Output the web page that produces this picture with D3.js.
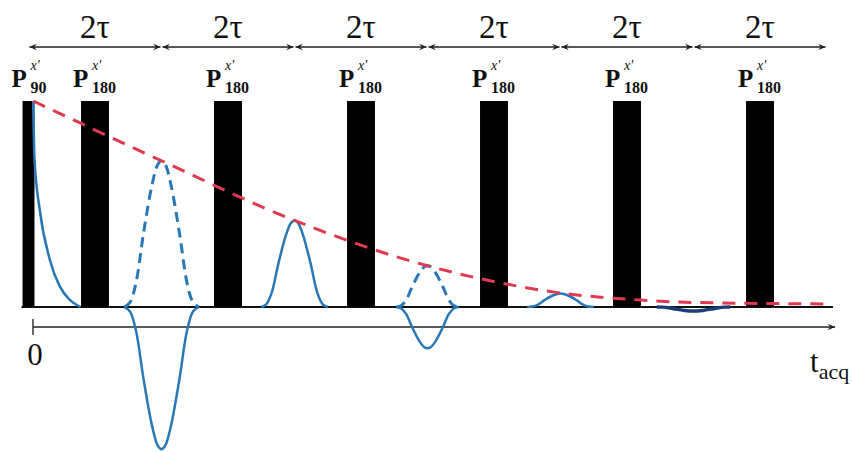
<!DOCTYPE html>
<html>
<head>
<meta charset="utf-8">
<script src="https://cdn.jsdelivr.net/npm/d3@7"></script>
<style>
  body { margin: 0; background: #fff; }
  text { font-family: "Liberation Serif", "Times New Roman", serif; fill: #111; }
</style>
</head>
<body>
<script>
// time in units of tau, amplitude relative to the 90 pulse
var pulseTimes = [0, 1, 3, 5, 7, 9, 11];
var pulseSubs = ["90", "180", "180", "180", "180", "180", "180"];
var spanTicks = [0, 2, 4, 6, 8, 10, 12];
var spanLabel = "2\u03c4";

// echo centres, signed amplitude of the solid echo, amplitude of the dashed (refocused) echo
var echoTimes = [2, 4, 6, 8, 10];
var echoSolid = [-0.69, 0.42, -0.20, 0.065, -0.02];
var echoDashed = [0.71, null, 0.20, null, null];
var echoHalfWidth = [0.56, 0.5, 0.47, 0.5, 0.55];
// normalised bell profile
var echoProfile = [[-1, 0], [-0.85, 0.03], [-0.69, 0.16], [-0.48, 0.51], [-0.25, 0.84], [-0.1, 0.975], [0, 1],
                   [0.1, 0.975], [0.25, 0.84], [0.48, 0.51], [0.69, 0.16], [0.85, 0.03], [1, 0]];

// free induction decay after the 90 pulse
var fid = [[0.07, 1.0], [0.09, 0.72], [0.17, 0.47], [0.32, 0.23], [0.47, 0.10], [0.62, 0.035], [0.78, 0.0]];

// T2 envelope (red dashed)
var envelope = [[0.07, 1.0], [2, 0.71], [4, 0.42], [6, 0.20], [7.1, 0.117], [8, 0.068],
                [9.2, 0.034], [10, 0.022], [12.05, 0.015]];

var W = 852, H = 452;
var svg = d3.select("body").append("svg").attr("width", W).attr("height", H);

var x = d3.scaleLinear().domain([0, 12]).range([28.5, 826.5]);
var y = d3.scaleLinear().domain([0, 1]).range([307, 101]);

var defs = svg.append("defs");
defs.append("marker").attr("id", "head")
    .attr("viewBox", "-10 -5 12 10").attr("refX", 0).attr("refY", 0)
    .attr("markerWidth", 10).attr("markerHeight", 8).attr("markerUnits", "userSpaceOnUse")
    .attr("orient", "auto-start-reverse")
    .append("path").attr("d", "M-9,-4 L0,0 L-9,4 L-6,0 Z").attr("fill", "#222");

// top 2tau spans
var spans = d3.pairs(spanTicks);
svg.append("g").selectAll("line").data(spans).enter().append("line")
    .attr("x1", function (d) { return x(d[0]) + 1; })
    .attr("x2", function (d) { return x(d[1]) - 1; })
    .attr("y1", 47).attr("y2", 47)
    .attr("stroke", "#222").attr("stroke-width", 1.5)
    .attr("marker-start", "url(#head)").attr("marker-end", "url(#head)");
svg.append("g").selectAll("text").data(spans).enter().append("text")
    .attr("x", function (d) { return x((d[0] + d[1]) / 2); })
    .attr("y", 38).attr("text-anchor", "middle")
    .style("font-size", "33px")
    .text(spanLabel);

// baseline
svg.append("line").attr("x1", x(0) - 7).attr("x2", 833).attr("y1", y(0)).attr("y2", y(0))
    .attr("stroke", "#111").attr("stroke-width", 2);

// time axis
svg.append("line").attr("x1", 33).attr("x2", 835).attr("y1", 327).attr("y2", 327)
    .attr("stroke", "#222").attr("stroke-width", 1.5).attr("marker-end", "url(#head)");
svg.append("line").attr("x1", 33).attr("x2", 33).attr("y1", 319).attr("y2", 335)
    .attr("stroke", "#333").attr("stroke-width", 1.5);
svg.append("text").attr("x", 35).attr("y", 365).attr("text-anchor", "middle")
    .style("font-size", "31px").text("0");
var tl = svg.append("text").attr("x", 810).attr("y", 372).style("font-size", "31px");
tl.append("tspan").text("t");
tl.append("tspan").attr("dy", 7).style("font-size", "22px").text("acq");

// pulses
var pw = function (i) { return i === 0 ? 0.18 : 0.42; };
svg.append("g").selectAll("rect").data(pulseTimes).enter().append("rect")
    .attr("x", function (d, i) { return x(d - pw(i) / 2); })
    .attr("width", function (d, i) { return x(pw(i)) - x(0); })
    .attr("y", y(1)).attr("height", y(0) - y(1))
    .attr("fill", "#000");

// pulse labels
var lab = svg.append("g").selectAll("g").data(pulseTimes).enter().append("g")
    .attr("transform", function (d, i) {
        return "translate(" + (x(d) + (i === 0 ? -17 : -22)) + ",87)";
    });
lab.append("text").attr("x", 0).attr("y", 0).style("font-size", "25px").style("font-weight", "bold").text("P");
lab.append("text").attr("x", 19).attr("y", -17).style("font-size", "14px").style("font-style", "italic").text("x'");
lab.append("text").attr("x", 19).attr("y", 6).style("font-size", "16px").style("font-weight", "bold")
    .text(function (d, i) { return pulseSubs[i]; });

var line = d3.line().x(function (d) { return x(d[0]); }).y(function (d) { return y(d[1]); })
    .curve(d3.curveCatmullRom.alpha(0.5));
var fidLine = d3.line().x(function (d) { return x(d[0]); }).y(function (d) { return y(d[1]); })
    .curve(d3.curveMonotoneX);

var blue = "#2878b5";
function echoPts(i, amp) {
    return echoProfile.map(function (p) {
        return [echoTimes[i] + p[0] * echoHalfWidth[i], p[1] * amp];
    });
}

// FID
svg.append("path").attr("d", fidLine(fid)).attr("fill", "none")
    .attr("stroke", blue).attr("stroke-width", 2.5);

// echoes
var eg = svg.append("g");
echoTimes.forEach(function (t, i) {
    eg.append("path").attr("d", line(echoPts(i, echoSolid[i]))).attr("fill", "none")
        .attr("stroke", i === 4 ? "#1d3d7a" : blue).attr("stroke-width", i === 4 ? 3.5 : 2.5);
    if (echoDashed[i] !== null) {
        eg.append("path").attr("d", line(echoPts(i, echoDashed[i]))).attr("fill", "none")
            .attr("stroke", blue).attr("stroke-width", 3).attr("stroke-dasharray", "10,6");
    }
});

// envelope
svg.append("path").attr("d", fidLine(envelope)).attr("fill", "none")
    .attr("stroke", "#e03a4e").attr("stroke-width", 3).attr("stroke-dasharray", "13,9");
</script>
</body>
</html>
